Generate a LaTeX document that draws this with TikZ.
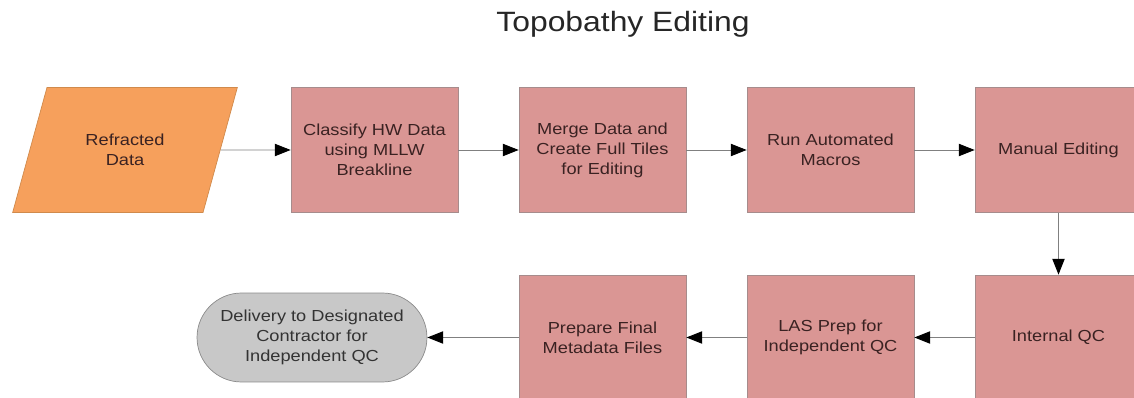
\documentclass[tikz,border=0pt]{standalone}
\usepackage{fontspec}
\setmainfont{Liberation Sans}[FakeStretch=1.14]
\usetikzlibrary{arrows.meta,positioning,shapes.geometric}
\definecolor{rosebox}{HTML}{DA9694}
\definecolor{roseline}{HTML}{A68C8C}
\definecolor{orangein}{HTML}{F6A05C}
\definecolor{orangeline}{HTML}{D08A4C}
\definecolor{termfill}{HTML}{C8C8C8}
\definecolor{termline}{HTML}{8A8A8A}
\definecolor{ink}{HTML}{3A2222}
\definecolor{wire}{HTML}{808080}

\begin{document}
\begin{tikzpicture}[x=0.02cm,y=-0.02cm,
  boxfont/.style={font=\fontsize{9.1}{11.4}\selectfont},
  procbox/.style={rectangle,draw=roseline,fill=rosebox,text=ink,boxfont,
    minimum width=3.34cm,minimum height=2.5cm,align=center,inner sep=2pt},
  databox/.style={trapezium,trapezium left angle=64,trapezium right angle=116,
    trapezium stretches=true,draw=orangeline,fill=orangein,text=ink,boxfont,
    minimum width=4.52cm,minimum height=2.5cm,align=center,inner sep=2pt},
  termbox/.style={rectangle,rounded corners=0.89cm,draw=termline,fill=termfill,
    text=black!80,boxfont,minimum width=4.6cm,minimum height=1.78cm,align=center},
  flow/.style={draw=wire,line width=0.55pt,-{Triangle[length=9pt,width=7pt,color=black]}}]
  \useasboundingbox (0,0) rectangle (1134,398);
  \clip (0,0) rectangle (1134,398);
  % title
  \node[font=\fontsize{15.9}{19}\selectfont,text=black!85,anchor=base] (title) at (623,32) {Topobathy Editing};
  % top row
  \node[databox] (refr) at (125,150) {Refracted\\Data};
  \node[procbox] (classify) at (374.5,150) {Classify HW Data\\using MLLW\\Breakline};
  \node[procbox] (merge) at (602.5,150) {Merge Data and\\Create Full Tiles\\for Editing};
  \node[procbox] (macros) at (830.5,150) {Run Automated\\Macros};
  \node[procbox] (manual) at (1058.5,150) {Manual Editing};
  % bottom row
  \node[procbox] (intqc) at (1058.5,337.5) {Internal QC};
  \node[procbox] (lasprep) at (830.5,337.5) {LAS Prep for\\Independent QC};
  \node[procbox] (meta) at (602.5,337.5) {Prepare Final\\Metadata Files};
  \node[termbox] (deliver) at (312,337.5) {Delivery to Designated\\Contractor for\\Independent QC};
  % arrows
  \draw[flow] (refr) -- (classify);
  \draw[flow] (classify) -- (merge);
  \draw[flow] (merge) -- (macros);
  \draw[flow] (macros) -- (manual);
  \draw[flow] (manual) -- (intqc);
  \draw[flow] (intqc) -- (lasprep);
  \draw[flow] (lasprep) -- (meta);
  \draw[flow] (meta) -- (deliver);
\end{tikzpicture}
\end{document}
